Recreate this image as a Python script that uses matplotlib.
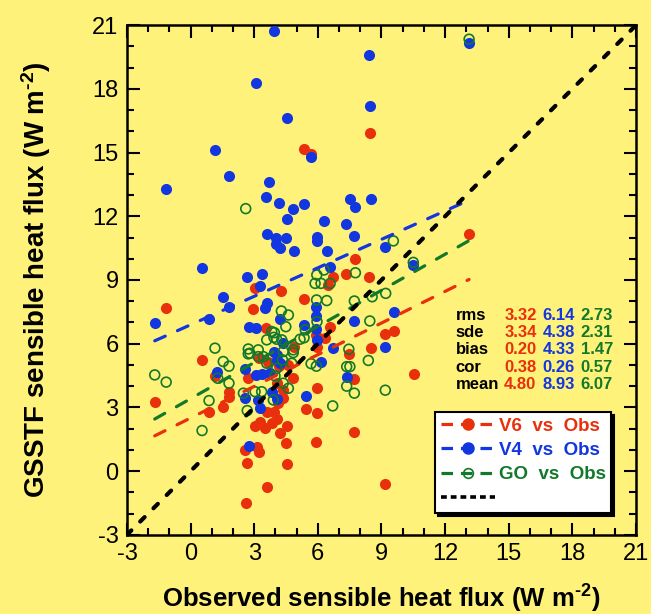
import numpy as np
import matplotlib
matplotlib.use('Agg')
import matplotlib.pyplot as plt
from matplotlib.lines import Line2D

# observed vs GSSTF sensible heat flux

v6_obs = [8.45, 5.36, 5.68, 7.77, 13.13, 8.40, 6.70, 7.32, 6.48, -1.15, 4.28, 3.04, 2.93, 5.36,
	3.56, 5.93, 6.32, 6.58, 5.98, 4.89, 8.52, 7.46, 0.54, 1.15, -1.69, 1.81, 1.81, 1.54, 0.87,
	2.72, 4.37, 5.44, 5.98, 5.98, 7.72, 7.72, 5.92, 3.59, 3.93, 4.06, 3.83, 3.27, 3.04, 3.51,
	4.22, 4.56, 2.57, 3.12, 3.24, 4.49, 2.67, 4.56, 3.60, 2.61, 9.59, 9.18, 10.52, 9.18, 4.06,
	4.14, 4.84, 3.24, 3.66, 4.15, 4.61, 4.37]
v6_val = [15.92, 15.18, 14.92, 10.00, 11.15, 9.16, 9.13, 9.28, 8.76, 7.67, 8.48, 8.61, 7.62, 8.09,
	6.73, 6.41, 6.26, 6.80, 5.86, 5.86, 5.81, 5.52, 5.21, 4.48, 3.27, 3.74, 3.51, 3.01, 2.77,
	4.37, 3.46, 2.93, 3.93, 2.73, 4.33, 1.86, 1.39, 2.77, 2.77, 2.44, 2.25, 2.33, 2.10, 2.02,
	1.81, 2.13, 1.00, 1.13, 0.92, 1.34, 0.40, 0.33, -0.75, -1.48, 6.61, 6.46, 4.59, -0.61, 4.14,
	3.20, 4.37, 5.32, 5.16, 4.95, 5.00, 3.82]

v4_obs = [3.95, 8.40, 3.07, 8.45, 4.56, 5.68, 1.14, 1.81, -1.15, 3.70, 3.54, 4.16, 4.82, 5.36,
	4.56, 7.50, 7.77, 8.52, 6.31, 7.32, 7.71, 3.62, 4.01, 4.49, 4.03, 4.23, 5.96, 5.96, 6.43,
	4.88, 13.13, 9.18, 10.50, 6.58, 0.54, 2.66, 3.35, 3.27, 1.54, 1.81, 3.59, 3.50, -1.69, 0.87,
	4.22, 2.75, 3.08, 5.36, 5.93, 5.93, 5.93, 5.98, 6.70, 7.71, 6.15, 1.26, 2.58, 2.58, 3.08,
	3.35, 3.27, 3.83, 4.09, 5.44, 7.36, 2.75, 9.59, 9.18, 3.93, 4.37, 4.06, 3.19, 3.75, 4.06, 4.22]
v4_val = [20.72, 19.60, 18.26, 17.20, 16.64, 14.77, 15.10, 13.91, 13.30, 13.63, 12.91, 12.64, 12.36, 12.58,
	11.89, 12.83, 12.44, 12.83, 11.76, 11.64, 11.09, 11.15, 10.98, 10.96, 10.68, 10.49, 11.02, 10.82, 10.36,
	10.36, 20.14, 10.57, 9.71, 9.63, 9.55, 9.16, 9.28, 8.72, 8.21, 7.74, 7.90, 7.70, 6.96, 7.15,
	7.15, 6.80, 6.75, 6.88, 7.74, 7.32, 6.68, 6.18, 5.81, 7.09, 5.13, 4.67, 4.81, 3.46, 4.53,
	4.58, 2.96, 3.72, 3.40, 3.54, 4.45, 1.19, 7.48, 5.86, 5.63, 6.02, 5.24, 3.35, 4.61, 5.47, 5.08]

go_obs = [2.60, 13.13, 9.56, 10.50, 5.95, 6.29, 5.87, 6.15, 6.58, 7.77, 4.28, 4.61, 4.49, 5.94,
	6.42, 5.96, 5.41, 5.35, 5.16, 4.84, 7.72, 8.45, 8.56, 7.46, 8.38, 5.68, 5.93, 1.15, 1.54,
	1.81, 1.28, 1.81, -1.69, -1.15, 0.87, 0.54, 2.67, 6.70, 7.72, 7.36, 7.51, 7.36, 9.20, 9.18,
	3.95, 3.93, 3.59, 4.30, 2.80, 3.19, 3.59, 4.06, 4.37, 2.49, 3.04, 3.35, 3.90, 4.84, 4.77,
	2.72, 2.72, 3.19, 3.43, 3.83, 4.06, 4.37, 4.33, 4.61, 3.98]
go_val = [12.36, 20.34, 10.84, 9.83, 9.24, 9.47, 8.84, 8.84, 8.84, 9.34, 7.54, 7.35, 6.80, 8.06,
	8.03, 7.04, 6.65, 6.28, 6.21, 5.71, 8.01, 7.07, 8.21, 5.74, 5.21, 5.06, 4.94, 5.79, 5.16,
	4.94, 4.37, 4.14, 4.53, 4.19, 3.32, 1.91, 2.85, 3.07, 3.67, 4.92, 4.92, 4.00, 8.37, 3.81,
	6.52, 6.30, 6.18, 6.18, 5.55, 5.39, 5.08, 4.84, 4.14, 3.67, 3.74, 3.74, 3.35, 5.58, 5.08,
	5.75, 5.52, 5.71, 5.39, 6.57, 6.21, 5.63, 5.24, 3.90, 4.48]

# regression lines (slope, intercept) as drawn in the figure
v6_fit = (0.497, 2.50)
v4_fit = (0.447, 6.89)
go_fit = (0.567, 3.41)

stat_names = ['rms', 'sde', 'bias', 'cor', 'mean']
v6_stats = ['3.32', '3.34', '0.20', '0.38', '4.80']
v4_stats = ['6.14', '4.38', '4.33', '0.26', '8.93']
go_stats = ['2.73', '2.31', '1.47', '0.57', '6.07']

ticks = [-3, 0, 3, 6, 9, 12, 15, 18, 21]

bg = '#fff27a'
red = '#e8300c'
blue = '#1236e0'
green = '#12792a'

plt.rcParams['font.family'] = ['Liberation Sans', 'DejaVu Sans']
plt.rcParams['axes.unicode_minus'] = False
plt.rcParams['mathtext.fontset'] = 'custom'
plt.rcParams['mathtext.rm'] = 'Liberation Sans:bold'
plt.rcParams['mathtext.default'] = 'rm'

fig = plt.figure(figsize=(6.51, 6.14), dpi=100, facecolor=bg)
ax = fig.add_axes([0.195, 0.129, 0.782, 0.830], facecolor=bg)

# scatter points: red first, blue, then green open circles on top
ax.scatter(v6_obs, v6_val, s=64, color=red, linewidths=0, zorder=3)
ax.scatter(v4_obs, v4_val, s=64, color=blue, linewidths=0, zorder=4)
ax.scatter(go_obs, go_val, s=50, facecolors='none', edgecolors=green, linewidths=1.2, zorder=5)

# regression lines over the range of the observations
def fit_line(obs, fit, color):
	xs = np.array([min(obs), max(obs)])
	ax.plot(xs, fit[0] * xs + fit[1], color=color, lw=2.3, dashes=(3.6, 4.2),
		dash_capstyle='round', zorder=6)

fit_line(v6_obs, v6_fit, red)
fit_line(v4_obs, v4_fit, blue)
fit_line(go_obs, go_fit, green)

# 1:1 line
ax.plot(ticks, ticks, color='black', lw=3.0, dashes=(1.5, 3.0), dash_capstyle='round', zorder=7)

ax.set_xlim(-3, 21)
ax.set_ylim(-3, 21)
ax.set_xticks(ticks)
ax.set_yticks(ticks)
ax.set_xticks(np.arange(-3, 22, 1), minor=True)
ax.set_yticks(np.arange(-3, 22, 1), minor=True)
ax.tick_params(which='both', direction='in', top=True, right=True, width=1.5)
ax.tick_params(which='major', length=9, labelsize=17, pad=6)
ax.tick_params(which='minor', length=5)
for sp in ax.spines.values():
	sp.set_linewidth(1.8)

ax.set_xlabel(r'Observed sensible heat flux (W m$^{\text{-2}}$)', fontsize=18.5, fontweight='bold', labelpad=13)
ax.set_ylabel(r'GSSTF sensible heat flux (W m$^{\text{-2}}$)', fontsize=20, fontweight='bold', labelpad=28)

# statistics table
rows_y = [0.430, 0.397, 0.363, 0.329, 0.295]
for i in range(len(stat_names)):
	ax.text(0.646, rows_y[i], stat_names[i], transform=ax.transAxes, fontsize=12,
		fontweight='bold', color='black', va='center', zorder=8)
	ax.text(0.741, rows_y[i], v6_stats[i], transform=ax.transAxes, fontsize=12,
		fontweight='bold', color=red, va='center', zorder=8)
	ax.text(0.816, rows_y[i], v4_stats[i], transform=ax.transAxes, fontsize=12,
		fontweight='bold', color=blue, va='center', zorder=8)
	ax.text(0.891, rows_y[i], go_stats[i], transform=ax.transAxes, fontsize=12,
		fontweight='bold', color=green, va='center', zorder=8)

# legend
handles = [
	Line2D([], [], color=red, lw=2.3, dashes=(3.6, 2.5), marker='o', markersize=8,
		markerfacecolor=red, markeredgecolor=red),
	Line2D([], [], color=blue, lw=2.3, dashes=(3.6, 2.5), marker='o', markersize=8,
		markerfacecolor=blue, markeredgecolor=blue),
	Line2D([], [], color=green, lw=2.3, dashes=(3.6, 2.5), marker='o', markersize=7,
		markerfacecolor='none', markeredgecolor=green, markeredgewidth=1.2),
	Line2D([], [], color='black', lw=2.6, dashes=(1.6, 1.1)),
]
labels = ['V6  vs  Obs', 'V4  vs  Obs', 'GO  vs  Obs', ' ']
leg = ax.legend(handles, labels, loc='upper left', bbox_to_anchor=(0.605, 0.241),
	prop={'size': 13.5, 'weight': 'bold'}, labelcolor=[red, blue, green, 'black'],
	numpoints=1, handlelength=2.9, handletextpad=0.2, labelspacing=0.38,
	borderpad=0.3, borderaxespad=0.0, fancybox=False, framealpha=1, edgecolor='black',
	shadow={'color': 'black', 'alpha': 1})
leg.get_frame().set_linewidth(1.5)
leg.set_zorder(10)

fig.savefig('out.png', dpi=100, facecolor=bg)
